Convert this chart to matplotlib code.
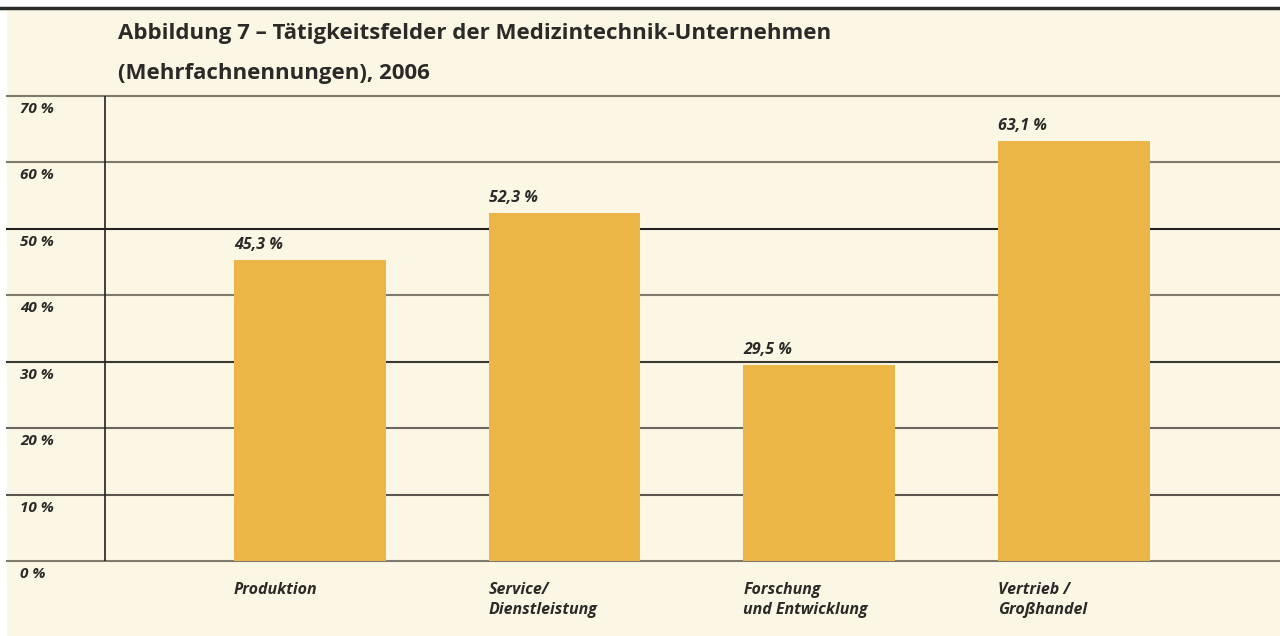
import matplotlib
matplotlib.use("Agg")
from matplotlib import pyplot as plt
from matplotlib import transforms

categories = ["Produktion", "Service/\nDienstleistung", "Forschung\nund Entwicklung", "Vertrieb /\nGroßhandel"]
values = [45.3, 52.3, 29.5, 63.1]
value_labels = ["45,3 %", "52,3 %", "29,5 %", "63,1 %"]
y_ticks = [0, 10, 20, 30, 40, 50, 60, 70]
y_tick_labels = ["0 %", "10 %", "20 %", "30 %", "40 %", "50 %", "60 %", "70 %"]

bg = "#fcf6e4"
bar_color = "#ebb548"
text_color = "#2b2a28"

plt.rcParams['font.family'] = ['Open Sans', 'DejaVu Sans']

fig = plt.figure(figsize=(12.8, 6.36), dpi=100)
fig.patch.set_facecolor("white")

# cream panel + dark top rule
panel = fig.add_axes([7 / 1280, 0, 1 - 7 / 1280, 1 - 9 / 636], zorder=0)
panel.axis('off')
panel.add_patch(plt.Rectangle((0, 0), 1, 1, transform=panel.transAxes, color=bg))
fig.add_artist(plt.Line2D([0, 1], [1 - 8 / 636, 1 - 8 / 636], transform=fig.transFigure,
                          color="#2a2a2a", lw=2.5))

fig.text(118 / 1280, 1 - 34 / 636, "Abbildung 7 – Tätigkeitsfelder der Medizintechnik-Unternehmen",
         fontsize=16, fontweight='bold', color=text_color, va='center', ha='left', zorder=5)
fig.text(118 / 1280, 1 - 74 / 636, "(Mehrfachnennungen), 2006",
         fontsize=16, fontweight='bold', color=text_color, va='center', ha='left', zorder=5)

# axes from x=7 to 1280 px, y from 561 (0 %) to 95 (70 %)
ax = fig.add_axes([7 / 1280, 1 - 561 / 636, 1 - 7 / 1280, (561 - 95.5) / 636], zorder=2)
ax.set_facecolor("none")
x = list(range(len(categories)))
ax.set_xlim(-1.188, 3.808)
ax.set_ylim(0, 70)

line_colors = ["#7d7a6e", "#5a574f", "#6a675e", "#3a3832", "#7d7a6e", "#222222", "#7d7a6e", "#7d7a6e"]
for t, c in zip(y_ticks, line_colors):
    ax.axhline(t, color=c, lw=1.5, zorder=1, clip_on=False)
ax.plot([-0.804, -0.804], [0, 70], color="#222222", lw=1.2, zorder=1)

ax.bar(x, values, width=0.596, color=bar_color, zorder=2)

lab_trans = transforms.blended_transform_factory(ax.transAxes, ax.transData)
for t, lab in zip(y_ticks, y_tick_labels):
    ax.annotate(lab, xy=(13 / 1273, t), xycoords=lab_trans, xytext=(0, -4.5),
                textcoords='offset points', va='top', ha='left', fontsize=11,
                fontweight='bold', fontstyle='italic', color=text_color)

for xi, v, lab in zip(x, values, value_labels):
    ax.annotate(lab, xy=(xi - 0.298, v), xytext=(0, 5), textcoords='offset points',
                va='bottom', ha='left', fontsize=11.5, fontweight='bold', fontstyle='italic',
                color=text_color, zorder=3,
                bbox=dict(boxstyle='square,pad=0.15', facecolor=bg, edgecolor='none'))

for xi, cat in zip(x, categories):
    ax.annotate(cat, xy=(xi - 0.298, 0), xytext=(0, -15), textcoords='offset points',
                va='top', ha='left', fontsize=11.5, fontweight='bold', fontstyle='italic',
                color=text_color, linespacing=1.35)

ax.set_xticks([])
ax.set_yticks([])
for s in ax.spines.values():
    s.set_visible(False)

plt.savefig("out.png", dpi=100, facecolor=fig.get_facecolor())
